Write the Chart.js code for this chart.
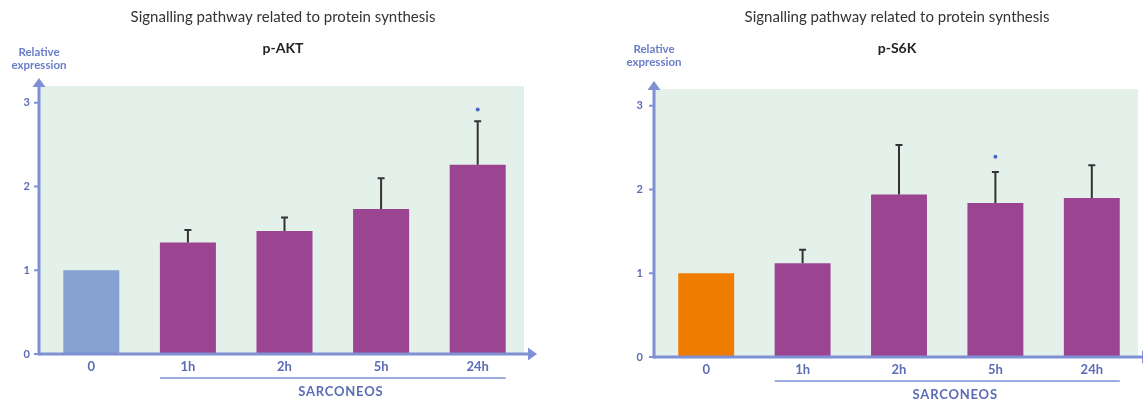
<!DOCTYPE html>
<html lang="en">
<head>
  <meta charset="UTF-8">
  <title>Signalling pathway related to protein synthesis</title>
  <style>
    * { margin: 0; padding: 0; box-sizing: border-box; }
    body { background: #fff; width: 1143px; height: 400px; overflow: hidden; position: relative; }
    .panel { position: absolute; top: 0; height: 400px; }
    #leftPanel { left: 0; width: 571px; }
    #rightPanel { left: 571px; width: 572px; }
  </style>
</head>
<body>
  <div class="panel" id="leftPanel"><canvas id="aktChart"></canvas></div>
  <div class="panel" id="rightPanel"><canvas id="s6kChart"></canvas></div>

  <script src="https://cdn.jsdelivr.net/npm/chart.js"></script>
  <script>
    const timeLabels = ['0', '1h', '2h', '5h', '24h'];
    const yTicks = [0, 1, 2, 3];

    const aktValues = [1.0, 1.33, 1.47, 1.73, 2.26];
    const aktErrTop = [null, 1.48, 1.63, 2.10, 2.78];
    const aktStars = [null, null, null, null, 2.92];

    const s6kValues = [1.0, 1.12, 1.94, 1.84, 1.90];
    const s6kErrTop = [null, 1.28, 2.53, 2.21, 2.29];
    const s6kStars = [null, null, null, 2.39, null];

    const PURPLE = '#9b4491';
    const AXIS = '#7f90d4';
    const LABEL = '#5a6db6';
    const FONT = 'Lato, "Open Sans", sans-serif';

    // background, axes with arrows, error bars and the extra texts
    const decor = {
      id: 'decor',
      beforeDatasetsDraw(chart, args, opts) {
        const { ctx, chartArea: a } = chart;
        const axisX = a.left - 4;
        ctx.save();
        ctx.fillStyle = '#e4f1ea';
        ctx.fillRect(axisX, a.top, a.right - 2 - axisX, a.bottom - a.top);
        ctx.restore();
      },
      afterDatasetsDraw(chart, args, opts) {
        const { ctx } = chart;
        const meta = chart.getDatasetMeta(0);
        const y = chart.scales.y;
        ctx.save();
        ctx.strokeStyle = '#333';
        ctx.lineWidth = 2;
        opts.errTop.forEach((v, i) => {
          if (v == null) return;
          const bar = meta.data[i];
          const yt = y.getPixelForValue(v);
          ctx.beginPath();
          ctx.moveTo(bar.x, bar.y);
          ctx.lineTo(bar.x, yt);
          ctx.moveTo(bar.x - 3.5, yt);
          ctx.lineTo(bar.x + 3.5, yt);
          ctx.stroke();
        });
        ctx.fillStyle = '#4a66c6';
        opts.stars.forEach((v, i) => {
          if (v == null) return;
          const bar = meta.data[i];
          ctx.beginPath();
          ctx.arc(bar.x, y.getPixelForValue(v), 2, 0, Math.PI * 2);
          ctx.fill();
        });
        ctx.restore();
      },
      afterDraw(chart, args, opts) {
        const { ctx, chartArea: a } = chart;
        const y = chart.scales.y;
        const meta = chart.getDatasetMeta(0);
        const axisX = a.left - 4;
        const zero = y.getPixelForValue(0);
        ctx.save();
        ctx.strokeStyle = AXIS;
        ctx.fillStyle = AXIS;
        ctx.lineWidth = 3;
        // y axis
        ctx.beginPath();
        ctx.moveTo(axisX, zero + 1.5);
        ctx.lineTo(axisX, a.top - 2);
        ctx.stroke();
        ctx.beginPath();
        ctx.moveTo(axisX, a.top - 8);
        ctx.lineTo(axisX - 6.5, a.top + 1);
        ctx.lineTo(axisX + 6.5, a.top + 1);
        ctx.closePath();
        ctx.fill();
        // x axis
        ctx.beginPath();
        ctx.moveTo(axisX, zero);
        ctx.lineTo(opts.arrowX - 6, zero);
        ctx.stroke();
        ctx.beginPath();
        ctx.moveTo(opts.arrowX + 2, zero);
        ctx.lineTo(opts.arrowX - 7, zero - 6.5);
        ctx.lineTo(opts.arrowX - 7, zero + 6.5);
        ctx.closePath();
        ctx.fill();
        // small tick dashes
        ctx.lineWidth = 2;
        yTicks.forEach(v => {
          const py = y.getPixelForValue(v);
          ctx.beginPath();
          ctx.moveTo(axisX - 5, py);
          ctx.lineTo(axisX, py);
          ctx.stroke();
        });
        // SARCONEOS bracket line
        const b1 = meta.data[1], b4 = meta.data[4];
        ctx.lineWidth = 1.5;
        ctx.beginPath();
        ctx.moveTo(b1.x - b1.width / 2, zero + opts.lineGap);
        ctx.lineTo(b4.x + b4.width / 2, zero + opts.lineGap);
        ctx.stroke();

        ctx.textAlign = 'center';
        ctx.textBaseline = 'middle';
        ctx.fillStyle = LABEL;
        ctx.font = 'bold 13px ' + FONT;
        if (ctx.letterSpacing !== undefined) ctx.letterSpacing = '0.8px';
        ctx.fillText('SARCONEOS', (b1.x + b4.x) / 2 + 8, zero + opts.lineGap + 14);
        if (ctx.letterSpacing !== undefined) ctx.letterSpacing = '0px';

        ctx.fillStyle = '#6a7dc9';
        ctx.font = 'bold 11.5px ' + FONT;
        ctx.fillText('Relative', axisX, opts.relY);
        ctx.fillText('expression', axisX, opts.relY + 13);

        ctx.fillStyle = '#333';
        ctx.font = '15px ' + FONT;
        ctx.fillText('Signalling pathway related to protein synthesis', opts.titleX, opts.titleY);
        ctx.fillStyle = '#222';
        ctx.font = 'bold 14px ' + FONT;
        ctx.fillText(opts.name, opts.titleX, opts.titleY + 31);
        ctx.restore();
      }
    };

    function makeChart(id, values, errTop, stars, firstColor, g) {
      return new Chart(document.getElementById(id), {
        type: 'bar',
        data: {
          labels: timeLabels,
          datasets: [{
            data: values,
            backgroundColor: [firstColor, PURPLE, PURPLE, PURPLE, PURPLE],
            borderWidth: 0,
            barPercentage: 0.58,
            categoryPercentage: 1.0
          }]
        },
        options: {
          responsive: true,
          maintainAspectRatio: false,
          animation: false,
          layout: { padding: { top: g.top, right: g.right, bottom: 0, left: 0 } },
          plugins: {
            legend: { display: false },
            tooltip: { enabled: false },
            decor: {
              errTop: errTop, stars: stars, name: g.name,
              titleX: g.titleX, titleY: g.titleY, relY: g.relY,
              arrowX: g.arrowX, lineGap: g.lineGap
            }
          },
          scales: {
            x: {
              grid: { display: false, drawTicks: false },
              border: { display: false },
              ticks: { color: LABEL, font: { family: FONT, weight: 'bold', size: 13 }, padding: 5 },
              afterFit(scale) { scale.height = g.xHeight; }
            },
            y: {
              min: 0,
              max: 3.2,
              grid: { display: false, drawTicks: false },
              border: { display: false },
              ticks: { color: LABEL, font: { family: FONT, weight: 'bold', size: 11 }, padding: g.tickPad },
              afterBuildTicks(scale) { scale.ticks = yTicks.map(v => ({ value: v })); },
              afterFit(scale) { scale.width = g.yWidth; }
            }
          }
        },
        plugins: [decor]
      });
    }

    makeChart('aktChart', aktValues, aktErrTop, aktStars, '#87a1d0', {
      name: 'p-AKT', top: 86, right: 45, xHeight: 46, yWidth: 43, tickPad: 13,
      titleX: 283, titleY: 17, relY: 52, arrowX: 535, lineGap: 24
    });

    makeChart('s6kChart', s6kValues, s6kErrTop, s6kStars, '#f07d00', {
      name: 'p-S6K', top: 89, right: 3, xHeight: 43, yWidth: 87, tickPad: 15,
      titleX: 326, titleY: 17, relY: 49, arrowX: 578, lineGap: 24
    });
  </script>
</body>
</html>
